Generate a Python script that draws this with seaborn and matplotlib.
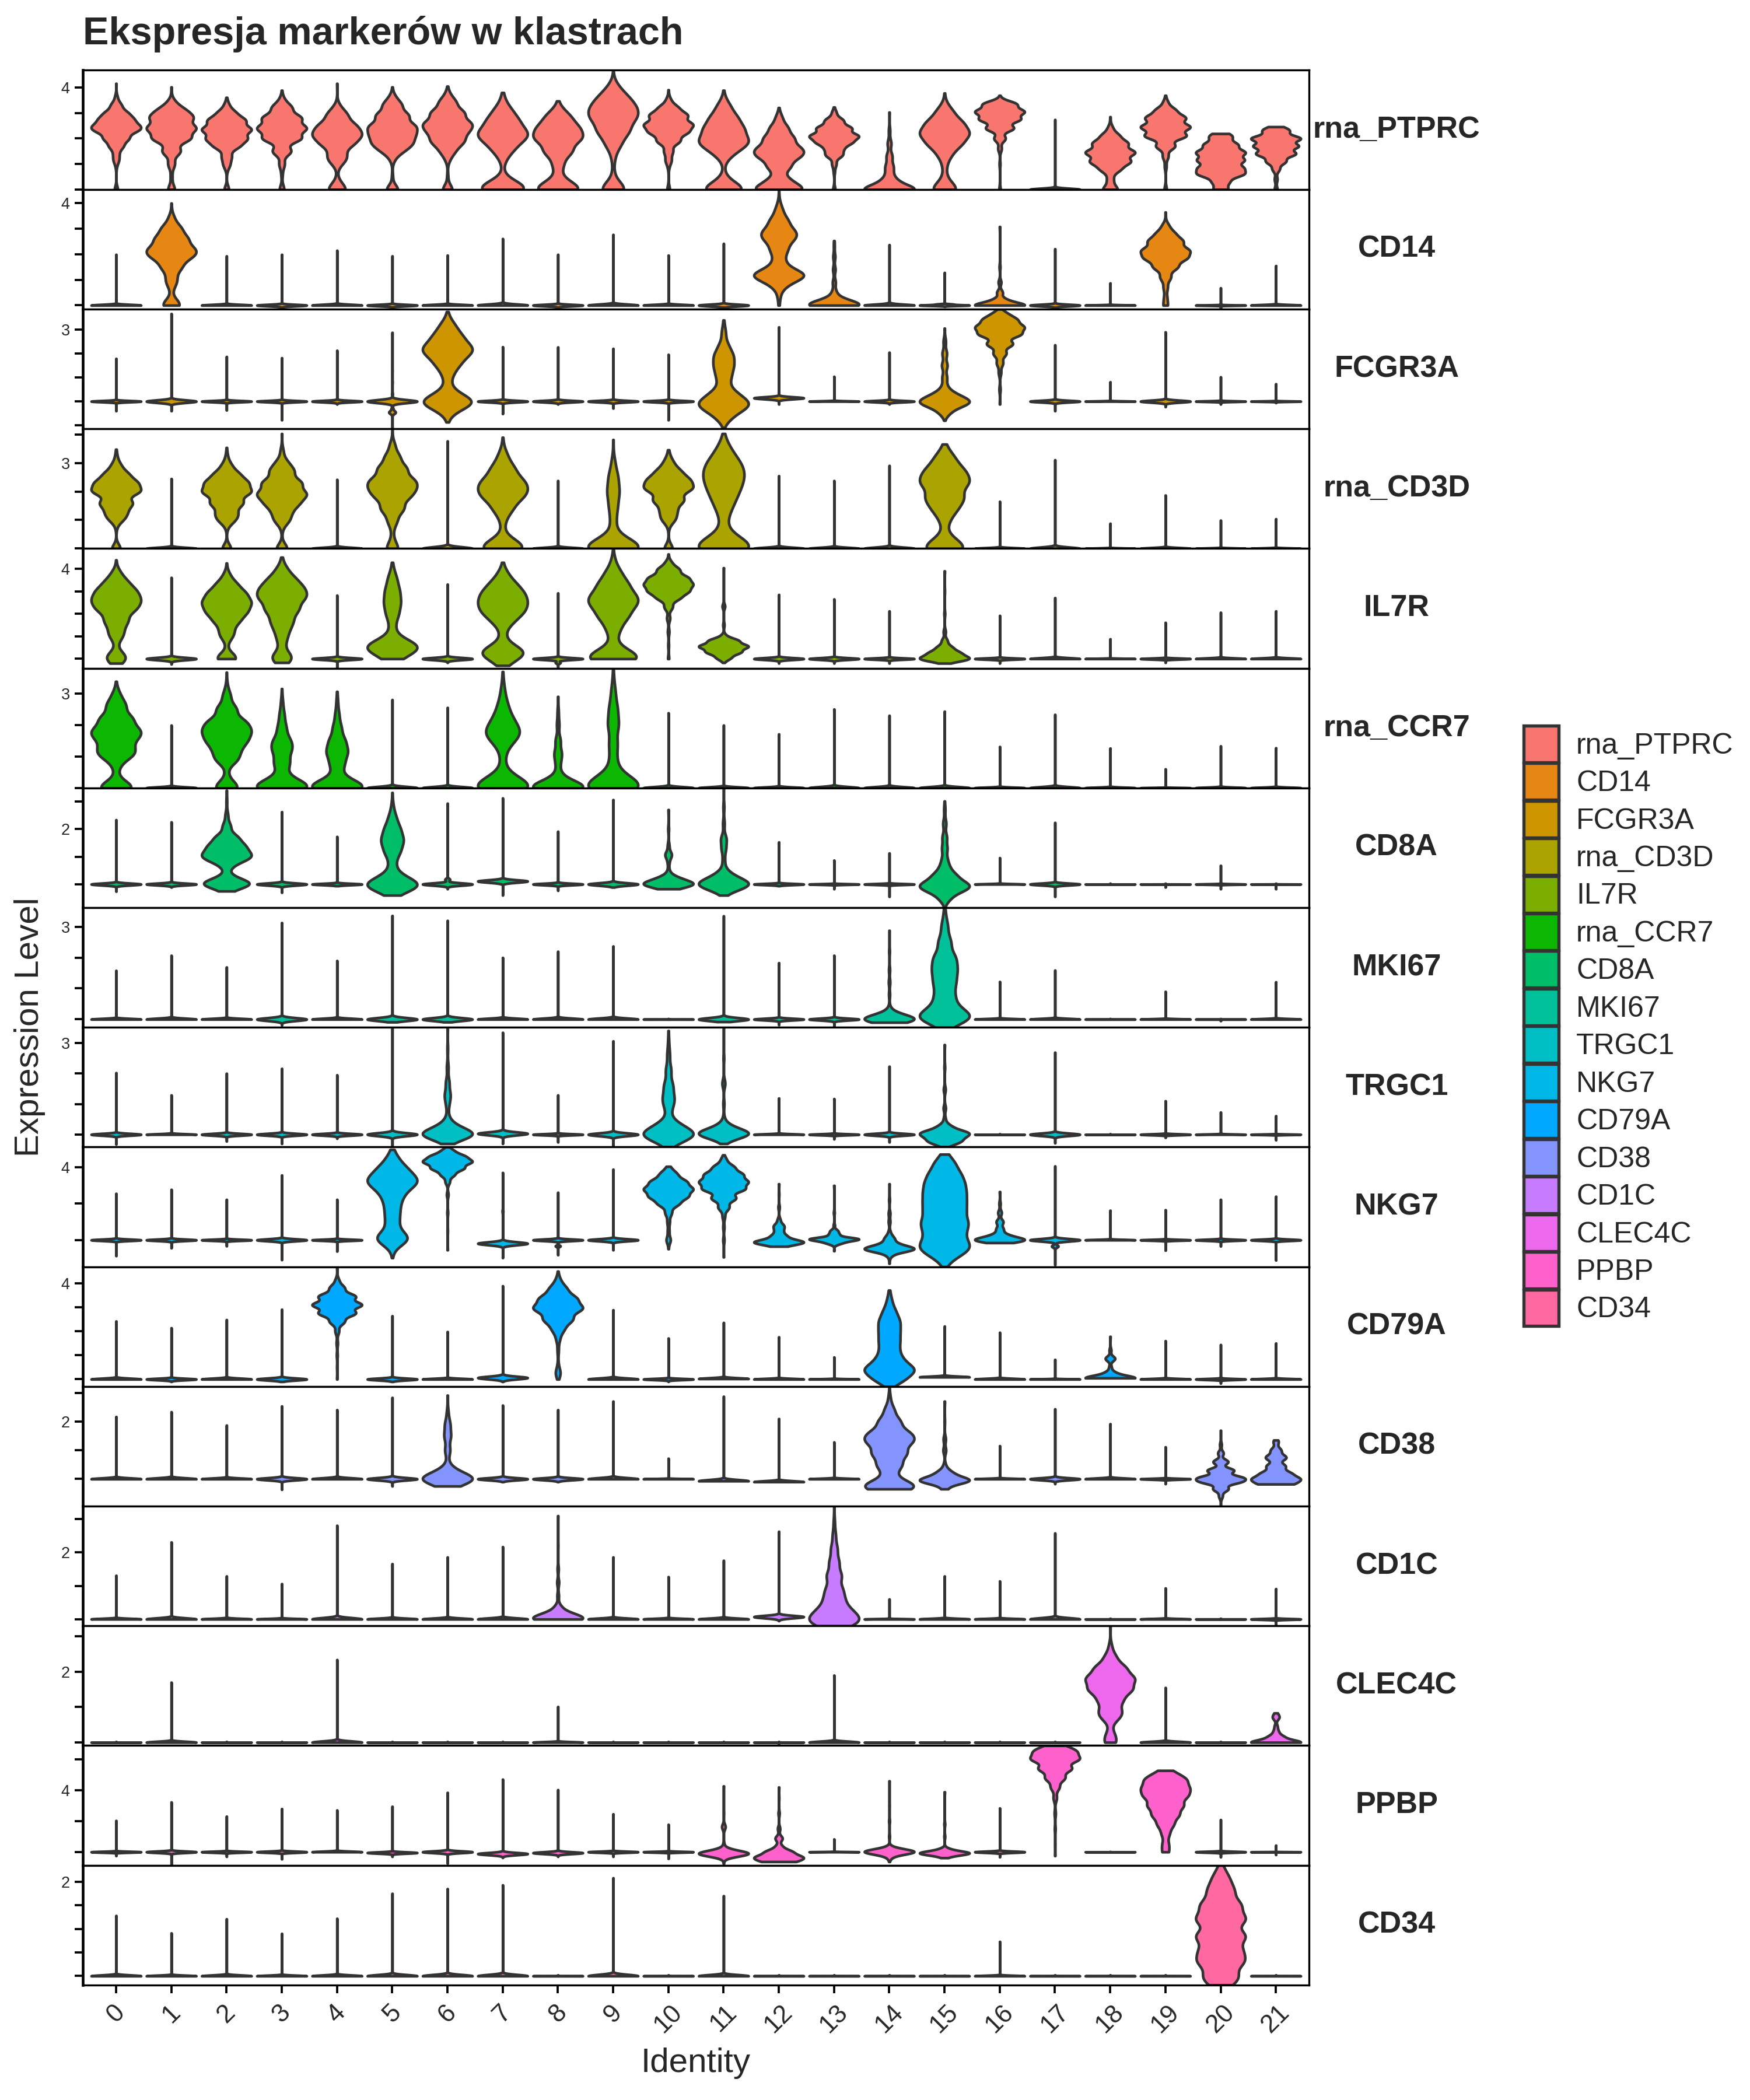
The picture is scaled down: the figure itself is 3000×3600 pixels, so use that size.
import numpy as np
import pandas as pd
import matplotlib
matplotlib.use("Agg")
import matplotlib.pyplot as plt
import seaborn as sns
from matplotlib.patches import Patch
from matplotlib.ticker import MultipleLocator, FuncFormatter

sns.set_theme(style="ticks")
plt.rcParams["font.family"] = ["Liberation Sans", "DejaVu Sans"]

genes = ["rna_PTPRC", "CD14", "FCGR3A", "rna_CD3D", "IL7R", "rna_CCR7", "CD8A", "MKI67",
         "TRGC1", "NKG7", "CD79A", "CD38", "CD1C", "CLEC4C", "PPBP", "CD34"]
colors = ["#F8766D", "#E68613", "#CD9600", "#ABA300", "#7CAE00", "#0CB702", "#00BE67", "#00C19A",
          "#00BFC4", "#00B8E7", "#00A9FF", "#8494FF", "#C77CFF", "#ED68ED", "#FF61CC", "#FF68A1"]
clusters = [str(i) for i in range(22)]
label_tick = [4, 4, 3, 3, 4, 3, 2, 3, 3, 4, 4, 2, 2, 2, 4, 2]
tick_step = [1, 1, 1, 1, 1, 1, 1, 1, 1, 2, 1, 1, 1, 1, 2, 0.5]

# per gene: top of each violin, bottom of each violin, and (value, relative width) for expressed clusters
ptprc_top = [4.16, 4.02, 3.61, 3.89, 4.16, 4.02, 4.05, 3.8, 3.47, 4.7, 3.91, 3.89, 3.21, 3.23, 3.03, 3.78, 3.69, 2.74, 2.85, 3.69, 2.19, 2.46]
ptprc_low = [0] * 22
ptprc_body = {
    0: [(0, 1.0), (0.9, 0.3), (1.15, 1.5), (1.4, 1.5), (1.7, 4), (2.0, 7), (2.3, 9.5), (2.5, 10), (2.75, 8.5), (3.0, 6), (3.3, 3), (3.6, 0.8)],
    1: [(0, 1.5), (0.5, 0.4), (1.0, 1.5), (1.5, 4), (2.0, 8), (2.4, 10), (2.8, 8), (3.1, 5), (3.4, 1.5)],
    2: [(0, 1), (0.8, 0.3), (1.0, 1.3), (1.3, 2), (1.7, 5), (2.0, 8), (2.35, 10), (2.7, 7.5), (3.0, 3.5), (3.3, 1)],
    3: [(0, 1), (0.6, 0.3), (1.0, 1.2), (1.5, 4), (2.0, 8), (2.4, 10), (2.8, 8), (3.2, 4), (3.5, 1)],
    4: [(0, 4), (0.3, 1), (0.9, 0.5), (1.15, 3), (1.4, 3), (1.8, 7), (2.15, 10), (2.5, 8), (2.9, 4.5), (3.2, 1.5)],
    5: [(0, 3), (0.5, 0.3), (1.2, 1), (1.5, 4), (1.75, 6), (1.95, 5.5), (2.2, 8.5), (2.5, 10), (2.9, 8), (3.3, 4.5), (3.6, 1.5)],
    6: [(0, 2.5), (0.5, 0.3), (1.2, 1), (1.5, 3), (1.8, 4.5), (2.0, 5), (2.3, 8), (2.6, 10), (3.0, 8), (3.4, 4), (3.7, 1.2)],
    7: [(0, 10), (0.25, 4), (0.5, 0.5), (1.2, 1.5), (1.6, 5), (2.0, 8.5), (2.3, 8.5), (2.7, 7), (3.1, 4), (3.5, 1)],
    8: [(0, 9), (0.3, 3), (0.6, 0.8), (1.0, 2.5), (1.5, 6.5), (2.0, 10), (2.4, 8.5), (2.8, 5), (3.1, 1.8)],
    9: [(0, 6), (0.3, 1), (0.7, 0.4), (1.3, 1), (1.8, 4), (2.3, 8), (2.8, 10), (3.2, 9.5), (3.6, 6.5), (4.0, 2.5)],
    10: [(0, 0.6), (0.9, 0.3), (1.15, 1.3), (1.5, 2), (1.9, 5), (2.25, 8), (2.55, 10), (2.9, 8), (3.2, 4), (3.5, 1)],
    11: [(0, 10), (0.3, 3), (0.6, 0.5), (1.2, 1.5), (1.5, 5), (1.8, 9), (2.05, 7.5), (2.4, 9.5), (2.8, 7), (3.2, 3.5), (3.5, 1)],
    12: [(0, 10), (0.3, 4), (0.5, 1.5), (0.9, 5), (1.3, 8), (1.6, 8.5), (2.0, 6.5), (2.4, 4), (2.8, 1.5)],
    13: [(0, 0.5), (0.7, 0.3), (1.0, 1), (1.35, 3.5), (1.6, 3.5), (1.85, 7), (2.1, 10), (2.4, 7.5), (2.7, 4), (3.0, 1)],
    14: [(0, 10), (0.3, 3), (0.6, 1.2), (0.9, 1.5), (1.3, 1.2), (1.8, 0.8), (2.3, 0.3)],
    15: [(0, 5), (0.3, 1.5), (0.6, 0.5), (1.0, 1), (1.4, 3), (1.8, 7), (2.2, 10), (2.6, 7.5), (3.0, 3.5), (3.3, 1)],
    16: [(0, 0.3), (1.0, 0.2), (1.6, 0.8), (2.0, 2.5), (2.4, 6), (2.75, 8.5), (3.05, 10), (3.35, 7)],
    18: [(0, 3), (0.3, 1), (0.5, 0.8), (0.8, 4), (1.1, 8), (1.45, 10), (1.8, 7), (2.1, 3.5), (2.4, 1)],
    19: [(0, 0.5), (0.9, 0.4), (1.3, 1.2), (1.7, 4), (2.1, 8.5), (2.45, 10), (2.8, 8), (3.1, 4), (3.4, 1)],
    20: [(0, 3), (0.3, 3.5), (0.6, 9), (0.85, 8.5), (1.15, 9.5), (1.45, 10), (1.75, 7), (2.05, 4), (2.19, 1.5)],
    21: [(0, 0.6), (0.4, 0.6), (0.8, 1.5), (1.1, 4), (1.4, 8), (1.7, 9), (2.0, 10), (2.3, 5), (2.46, 1.2)],
}

cd14_top = [1.99, 4.0, 1.93, 1.99, 2.15, 1.93, 1.96, 2.61, 1.99, 2.77, 1.96, 2.42, 4.54, 2.53, 2.37, 1.28, 3.08, 2.21, 0.87, 3.65, 0.68, 1.55]
cd14_low = [0, 0, 0, -0.11, 0, -0.1, 0, 0, -0.12, 0, 0, -0.08, 0, 0, 0, -0.05, 0, -0.08, 0, 0, -0.15, 0]
cd14_body = {
    1: [(0, 4), (0.2, 1), (0.58, 0.3), (0.85, 1.8), (1.1, 2), (1.5, 5), (1.9, 8.5), (2.2, 10), (2.6, 8), (3.0, 5), (3.4, 1.5)],
    7: [(0, 30), (0.05, 6)],
    12: [(0, 0.3), (0.4, 0.8), (0.8, 3.5), (1.1, 8), (1.25, 8), (1.55, 3), (1.85, 2.2), (2.2, 4.5), (2.6, 7), (2.9, 7.5), (3.3, 5), (3.7, 2), (4.0, 0.5)],
    13: [(0, 10), (0.2, 4), (0.5, 1), (0.9, 0.7), (1.4, 0.6), (1.9, 0.5), (2.3, 0.2)],
    14: [(0, 30), (0.05, 5)],
    15: [(0, 30), (0.04, 10)],
    16: [(0, 10), (0.2, 2.5), (0.5, 1.2), (0.9, 0.6), (1.5, 0.2)],
    19: [(0, 1), (0.3, 0.7), (0.7, 1), (1.1, 2.5), (1.5, 5.5), (1.85, 9), (2.15, 10), (2.5, 7.5), (2.8, 4), (3.1, 1.5)],
}

fcgr3a_top = [1.79, 3.67, 1.87, 1.82, 2.13, 2.88, 3.75, 2.28, 2.27, 2.21, 1.96, 3.4, 3.11, 1.04, 2.05, 3.06, 3.86, 2.36, 0.81, 2.9, 1.02, 0.73]
fcgr3a_low = [-0.4, -0.4, -0.37, -0.78, -0.12, -1.15, -0.87, -0.52, -0.12, -0.29, -0.78, -1.1, -0.12, 0, -0.12, -0.8, -0.12, -0.4, 0, -0.23, -0.12, -0.06]
fcgr3a_body = {
    5: [(0, 30), (-0.46, 4), (-0.3, 1), (0.3, 0.5), (0.8, 0.3), (1.3, 0.2)],
    6: [(-0.5, 2), (-0.2, 6), (0, 9), (0.25, 5), (0.55, 1.5), (0.85, 1), (1.2, 3), (1.6, 6.5), (2.0, 9.5), (2.3, 10), (2.7, 7.5), (3.1, 4), (3.4, 1.2)],
    11: [(-0.7, 3), (-0.35, 7), (-0.05, 10), (0.3, 6), (0.7, 2.5), (1.1, 3.5), (1.5, 4.5), (1.9, 4.5), (2.3, 2.5), (2.8, 1), (3.1, 0.4)],
    12: [(0.14, 30)],
    15: [(-0.45, 3), (-0.15, 8), (0.05, 10), (0.3, 5), (0.6, 1.5), (1.0, 1.5), (1.5, 1.8), (2.0, 1.5), (2.5, 0.8)],
    16: [(0.5, 0.3), (1.2, 0.6), (1.6, 1.5), (2.0, 3), (2.4, 6), (2.8, 9), (3.1, 10), (3.4, 7), (3.65, 3)],
}

cd3d_top = [3.48, 2.45, 3.54, 4.03, 2.42, 4.2, 3.77, 3.9, 2.38, 3.82, 3.46, 4.03, 2.55, 2.38, 2.91, 3.66, 1.65, 3.11, 0.88, 1.87, 0.99, 1.04]
cd3d_low = [0] * 22
cd3d_body = {
    0: [(0, 2), (0.77, 0.3), (1.05, 3), (1.3, 4), (1.6, 7), (2.0, 10), (2.3, 8.5), (2.6, 5), (2.9, 2), (3.2, 0.5)],
    2: [(0, 2), (0.75, 0.3), (1.0, 3), (1.25, 4), (1.6, 7), (1.98, 10), (2.3, 8.5), (2.6, 5), (2.9, 2), (3.2, 0.5)],
    3: [(0, 2.5), (0.71, 0.3), (1.0, 3), (1.3, 3.5), (1.6, 6.5), (1.92, 10), (2.3, 8.5), (2.7, 5), (3.0, 2.5), (3.4, 0.7)],
    5: [(0, 3), (0.3, 0.8), (0.7, 0.6), (1.0, 2.5), (1.4, 6), (1.8, 7.5), (2.1, 9.5), (2.4, 10), (2.8, 7.5), (3.2, 4), (3.6, 1.5)],
    7: [(0, 10), (0.25, 4), (0.5, 0.7), (1.0, 1.5), (1.4, 5), (1.8, 8.5), (2.1, 9), (2.4, 8.5), (2.8, 6), (3.2, 2.5), (3.5, 0.6)],
    9: [(0, 10), (0.25, 3.5), (0.5, 1), (1.0, 1.2), (1.5, 1.8), (2.0, 2.5), (2.5, 2), (3.0, 0.8)],
    10: [(0, 2), (0.8, 0.3), (1.05, 3), (1.35, 3.5), (1.7, 7), (2.1, 10), (2.4, 8.5), (2.7, 5), (3.0, 2), (3.25, 0.5)],
    11: [(0, 10), (0.3, 4.5), (0.6, 1), (1.0, 1), (1.4, 2.5), (1.8, 4), (2.2, 5.5), (2.6, 6.5), (3.0, 5.5), (3.4, 2.5), (3.7, 0.8)],
    15: [(0, 8), (0.3, 3), (0.55, 0.5), (1.0, 2), (1.4, 5), (1.8, 8), (2.3, 10), (2.7, 8), (3.1, 4), (3.4, 1.5)],
}

il7r_top = [4.39, 3.61, 4.25, 4.51, 2.82, 4.28, 3.31, 4.28, 2.92, 4.9, 4.65, 4.04, 2.85, 2.65, 2.12, 3.9, 1.92, 2.71, 0.88, 1.61, 2.06, 2.12]
il7r_low = [-0.2, -0.24, 0, -0.17, -0.42, 0, -0.17, -0.3, -0.38, 0, 0, -0.17, -0.2, -0.2, -0.2, -0.2, -0.2, 0, 0, -0.17, 0, 0]
il7r_body = {
    0: [(-0.17, 1), (0.05, 4), (0.3, 1), (0.67, 0.3), (1.0, 2.5), (1.3, 2.5), (1.7, 5.5), (2.2, 8.5), (2.6, 10), (3.0, 8.5), (3.4, 5), (3.8, 2)],
    2: [(0, 3.5), (0.15, 1.5), (0.6, 0.3), (1.0, 2.3), (1.3, 2.5), (1.7, 5.5), (2.1, 8.5), (2.5, 10), (2.9, 8), (3.3, 4.5), (3.7, 1.5)],
    3: [(-0.15, 1), (0.05, 4), (0.3, 1), (0.6, 0.6), (0.9, 2), (1.3, 3), (1.7, 5), (2.2, 8), (2.7, 10), (3.1, 9), (3.5, 6), (3.9, 2.5), (4.2, 0.6)],
    5: [(0, 3), (0.3, 6), (0.55, 10), (0.8, 4), (1.1, 1), (1.5, 1.5), (2.0, 3.5), (2.5, 4.5), (3.0, 4), (3.5, 2.5), (3.9, 0.8)],
    7: [(-0.1, 4), (0.25, 9), (0.55, 4), (0.9, 1), (1.3, 1.5), (1.7, 5), (2.1, 9), (2.5, 10), (2.9, 9), (3.3, 6), (3.7, 2.5), (4.0, 0.6)],
    8: [(0, 30), (-0.17, 3)],
    9: [(0, 10), (0.3, 4.5), (0.6, 1), (1.0, 1.2), (1.4, 3), (1.9, 6.5), (2.4, 8.5), (2.8, 8.5), (3.3, 6.5), (3.8, 3.5), (4.3, 1)],
    10: [(0, 0.3), (0.6, 0.2), (1.2, 0.4), (1.8, 0.8), (2.3, 2), (2.7, 5), (3.0, 8.5), (3.3, 10), (3.6, 8.5), (3.95, 5), (4.25, 1.5)],
    11: [(0.05, 3), (0.3, 7), (0.55, 10), (0.8, 6), (1.0, 1), (1.5, 0.3), (2.33, 0.6)],
    15: [(0.0, 10), (0.25, 6), (0.5, 3), (0.8, 1.2), (1.2, 0.5), (2.0, 0.25), (3.0, 0.1)],
}

ccr7_top = [3.38, 1.99, 3.67, 3.15, 3.06, 2.8, 2.55, 3.69, 2.9, 3.8, 2.38, 1.99, 1.71, 2.5, 2.3, 2.43, 1.31, 2.33, 1.26, 0.6, 1.33, 1.27]
ccr7_low = [0] * 22
ccr7_body = {
    0: [(0, 8), (0.2, 2), (0.45, 0.5), (0.75, 2), (1.05, 7.5), (1.3, 6.5), (1.6, 8.5), (1.85, 10), (2.2, 8.5), (2.6, 5), (2.9, 2), (3.1, 0.5)],
    2: [(0, 5), (0.2, 1.5), (0.5, 0.6), (0.9, 5), (1.2, 5.5), (1.5, 8.5), (1.8, 10), (2.1, 8.5), (2.5, 5), (2.9, 2), (3.2, 0.5)],
    3: [(0, 10), (0.2, 4.5), (0.45, 1.5), (0.8, 3.5), (1.2, 3.8), (1.5, 3.5), (1.9, 2), (2.3, 1.2), (2.7, 0.5)],
    4: [(0, 10), (0.2, 4.5), (0.5, 1.5), (0.8, 3), (1.15, 4.5), (1.5, 3.5), (1.9, 2), (2.3, 1), (2.7, 0.4)],
    7: [(0, 10), (0.25, 4.5), (0.5, 1), (0.9, 0.8), (1.3, 1.5), (1.6, 4), (1.85, 5), (2.2, 3.5), (2.6, 2), (3.0, 0.8), (3.3, 0.3)],
    8: [(0, 10), (0.2, 4), (0.45, 1), (0.8, 1), (1.1, 1.6), (1.5, 1.2), (2.0, 0.6), (2.4, 0.3)],
    9: [(0, 10), (0.25, 5), (0.5, 1.5), (0.9, 1.5), (1.4, 2), (2.0, 2.6), (2.5, 2), (3.0, 1), (3.4, 0.3)],
}

cd8a_top = [2.34, 2.26, 3.41, 2.63, 1.73, 3.33, 2.94, 3.13, 1.92, 3.07, 2.71, 3.5, 1.53, 0.87, 1.13, 3.02, 0.96, 2.24, 0.03, 0.03, 0.68, 0.03]
cd8a_low = [-0.26, -0.11, -0.25, -0.3, -0.06, -0.4, -0.17, -0.4, -0.23, -0.11, -0.17, -0.4, -0.06, -0.17, -0.45, -0.85, 0, -0.45, 0, -0.11, -0.17, -0.17]
cd8a_body = {
    2: [(-0.25, 1), (0, 10), (0.2, 3), (0.4, 0.5), (0.7, 2.5), (0.95, 8), (1.15, 6.5), (1.4, 7), (1.7, 5), (2.1, 2), (2.5, 0.7), (3.0, 0.2)],
    5: [(-0.2, 5), (0, 10), (0.25, 4), (0.5, 1), (0.8, 1.5), (1.2, 4), (1.6, 5.5), (2.0, 4), (2.4, 2), (2.8, 0.6)],
    6: [(0, 30), (0.17, 3)],
    7: [(0.11, 30)],
    10: [(-0.17, 1), (0, 10), (0.2, 4), (0.45, 0.5), (0.8, 0.4), (1.07, 1.5), (1.4, 0.4), (2.0, 0.2)],
    11: [(-0.15, 6), (0.05, 10), (0.3, 4), (0.55, 0.8), (0.9, 0.6), (1.3, 1.2), (1.65, 1.5), (2.2, 0.5), (2.8, 0.3)],
    15: [(-0.5, 3), (-0.2, 8), (0.0, 10), (0.3, 6), (0.6, 2.5), (0.9, 1.5), (1.3, 1.6), (1.7, 1.4), (2.2, 1), (2.7, 0.4)],
}

mki67_top = [1.58, 2.07, 1.69, 3.13, 1.9, 3.36, 3.2, 2.0, 2.2, 2.37, 0.02, 3.35, 1.83, 2.07, 2.88, 3.62, 1.22, 1.59, 0.02, 0.9, 0.02, 1.21]
mki67_low = [0, 0, 0, -0.19, 0, -0.09, -0.09, 0, 0, 0, 0, -0.08, -0.18, -0.23, 0, -0.26, 0, 0, 0, 0, -0.05, 0]
mki67_body = {
    14: [(-0.1, 2), (0, 10), (0.15, 4), (0.35, 0.5), (0.8, 0.3), (1.2, 0.4), (1.6, 0.3), (2.2, 0.15)],
    15: [(0, 8), (0.2, 6), (0.5, 3), (0.8, 3.5), (1.2, 4.5), (1.6, 5), (2.0, 4.8), (2.5, 3), (3.0, 1.5), (3.4, 0.4)],
}

trgc1_top = [2.02, 1.29, 2.0, 2.16, 1.95, 3.51, 3.5, 3.34, 1.29, 3.06, 3.4, 3.5, 1.19, 1.17, 2.23, 2.94, 0.02, 2.69, 0.02, 1.1, 0.73, 0.61]
trgc1_low = [-0.32, 0, -0.22, -0.3, -0.13, -0.39, -0.3, -0.3, -0.25, -0.41, -0.4, -0.3, 0, -0.15, -0.25, -0.4, 0, -0.28, 0, -0.1, 0, -0.18]
trgc1_body = {
    5: [(0, 30), (0.03, 3)],
    6: [(-0.1, 5), (0.05, 10), (0.3, 3), (0.6, 0.5), (1.0, 0.8), (1.3, 1.5), (1.7, 1), (2.2, 0.5), (2.8, 0.2)],
    7: [(0.03, 30)],
    10: [(-0.15, 6), (0.05, 10), (0.3, 4), (0.5, 0.8), (0.9, 1.8), (1.2, 2.8), (1.6, 2.5), (2.1, 1.6), (2.6, 0.8), (3.0, 0.3)],
    11: [(-0.1, 4), (0.05, 10), (0.25, 3), (0.5, 0.4), (1.0, 0.3), (1.67, 0.8), (2.5, 0.15)],
    15: [(-0.25, 6), (-0.1, 5), (0.05, 10), (0.25, 3), (0.5, 0.5), (0.86, 0.6), (1.47, 0.5), (2.2, 0.2)],
}

nkg7_top = [2.56, 2.78, 2.23, 3.57, 2.23, 4.98, 5.12, 3.71, 2.62, 3.89, 4.05, 4.68, 3.09, 3.0, 3.09, 4.72, 2.66, 4.07, 1.63, 1.66, 2.23, 2.4]
nkg7_low = [-0.87, -0.44, -0.33, -1.09, -0.62, -0.98, -0.55, -0.98, -0.82, -0.55, -0.49, -0.94, -0.35, -0.6, -1.29, -1.47, -0.15, -1.37, 0, -0.57, -0.34, -1.11]
nkg7_body = {
    5: [(-0.5, 0.6), (-0.1, 4), (0.15, 5.5), (0.5, 2.5), (1.0, 3), (1.5, 3.2), (2.0, 3.5), (2.5, 5), (3.0, 8.5), (3.4, 10), (3.9, 7), (4.4, 3), (4.8, 0.8)],
    6: [(0.5, 0.1), (1.5, 0.2), (2.5, 0.4), (3.2, 1), (3.6, 3), (3.95, 7), (4.3, 10), (4.6, 7), (4.9, 2.5)],
    7: [(-0.19, 30), (1.58, 0.5)],
    8: [(0, 30), (-0.33, 3)],
    10: [(0, 1), (0.5, 0.4), (1.0, 0.6), (1.5, 1.5), (2.0, 4.5), (2.4, 8), (2.8, 10), (3.2, 7.5), (3.6, 3.5), (3.9, 1)],
    11: [(0, 0.3), (0.7, 0.3), (1.3, 0.6), (1.8, 2.5), (2.3, 5.5), (2.8, 9), (3.2, 10), (3.6, 8), (4.0, 4.5), (4.4, 1.2)],
    12: [(-0.35, 1), (-0.12, 10), (0.2, 3), (0.5, 1.5), (0.77, 2), (1.1, 0.6), (1.8, 0.3), (2.5, 0.1)],
    13: [(-0.15, 3), (0.05, 10), (0.3, 2), (0.5, 1.5), (0.8, 0.3), (1.5, 0.2)],
    14: [(-0.8, 1), (-0.5, 10), (-0.25, 3), (0.08, 2), (0.4, 0.5), (1.0, 0.4), (1.46, 0.4), (2.2, 0.15)],
    15: [(-1.2, 2), (-0.8, 6), (-0.45, 9), (-0.1, 8), (0.3, 7.5), (0.7, 8.5), (1.1, 9.5), (1.6, 10), (2.1, 10), (2.6, 10), (3.1, 9.5), (3.6, 8), (4.1, 5), (4.45, 2.2), (4.72, 0.8)],
    16: [(0.0, 10), (0.25, 3), (0.6, 1.5), (1.0, 1.5), (1.5, 0.8), (2.0, 0.3)],
    17: [(0, 30), (-0.34, 4), (1.5, 0.1)],
}

cd79a_top = [2.42, 2.14, 2.48, 2.91, 4.69, 2.64, 1.98, 3.89, 4.5, 2.89, 1.71, 2.36, 1.76, 0.92, 3.71, 2.21, 1.95, 0.82, 1.78, 1.6, 1.44, 1.5]
cd79a_low = [0, -0.1, 0, -0.1, 0, -0.1, 0, -0.1, 0, 0, -0.1, 0, 0, 0, -0.3, 0, 0, 0, 0, 0, -0.17, 0]
cd79a_body = {
    4: [(0, 0.1), (0.5, 0.1), (1.0, 0.15), (1.5, 0.3), (2.0, 0.8), (2.4, 3), (2.75, 7.5), (3.1, 10), (3.45, 7.5), (3.8, 3), (4.1, 0.8)],
    7: [(0.06, 30)],
    8: [(0, 0.1), (0.26, 1), (0.6, 0.2), (1.2, 0.3), (1.7, 0.8), (2.1, 2.5), (2.5, 6), (2.95, 10), (3.35, 7.5), (3.75, 3.5), (4.1, 1)],
    11: [(0.02, 30)],
    14: [(0, 6), (0.4, 10), (0.8, 5), (1.2, 3.5), (1.6, 3.8), (2.0, 3.8), (2.4, 4), (2.8, 2.5), (3.2, 1), (3.5, 0.3)],
    15: [(0.09, 30)],
    18: [(0.05, 10), (0.25, 2), (0.5, 0.5), (0.86, 2), (1.2, 0.4)],
}

cd38_top = [2.18, 2.35, 1.88, 2.55, 2.42, 2.85, 2.93, 2.58, 2.42, 2.72, 0.72, 2.89, 2.11, 1.29, 3.24, 2.72, 1.16, 2.45, 1.93, 1.12, 1.7, 1.36]
cd38_low = [0, 0, 0, -0.37, 0, -0.25, 0, -0.1, -0.1, 0, 0, 0, -0.1, 0, 0, 0, 0, -0.17, 0, -0.17, -0.95, 0]
cd38_body = {
    6: [(-0.25, 2), (0, 10), (0.25, 3), (0.5, 0.5), (1.0, 1.2), (1.5, 1.5), (1.9, 1.2), (2.3, 0.4)],
    11: [(-0.07, 30)],
    12: [(-0.1, 30)],
    14: [(-0.35, 7), (-0.18, 8), (0.16, 2.5), (0.5, 6), (0.9, 8.5), (1.3, 10), (1.6, 9), (2.0, 5.5), (2.4, 2.5), (2.8, 0.6)],
    15: [(-0.35, 1), (-0.05, 10), (0.2, 3), (0.45, 0.5), (1.0, 0.6), (1.39, 0.5), (2.0, 0.1)],
    20: [(-0.6, 1), (-0.35, 4), (-0.1, 9), (0.05, 10), (0.3, 7), (0.6, 4), (0.9, 1.5), (1.2, 0.5)],
    21: [(-0.18, 7), (0.0, 10), (0.2, 6.5), (0.45, 4.5), (0.75, 5), (1.0, 2.5), (1.3, 1.2)],
}

cd1c_top = [1.31, 2.31, 1.29, 1.06, 2.81, 1.66, 1.86, 2.17, 3.1, 1.86, 1.27, 1.76, 2.63, 3.39, 0.6, 1.29, 1.14, 2.58, 0.02, 0.93, 0.02, 0.91]
cd1c_low = [0, 0, 0, 0, 0, 0, 0, 0, 0, 0, 0, 0, -0.05, -0.2, 0, 0, 0, 0, 0, 0, 0, -0.16]
cd1c_body = {
    8: [(0, 10), (0.15, 5), (0.35, 1.5), (0.7, 0.4), (1.1, 0.5), (1.5, 0.3), (2.2, 0.1)],
    12: [(0.07, 30)],
    13: [(-0.16, 8), (0.05, 10), (0.3, 7), (0.6, 5), (0.9, 4.5), (1.3, 4.5), (1.7, 3), (2.1, 2), (2.5, 1), (2.9, 0.4)],
}

clec4c_top = [0.02, 1.7, 0.02, 0.02, 2.34, 0.02, 0.02, 0.02, 1.01, 0.02, 0.02, 0.02, 0.02, 1.9, 0.02, 0.02, 0.02, 0.02, 3.3, 1.55, 0.02, 0.83]
clec4c_low = [0, 0, 0, 0, 0, 0, 0, 0, 0, 0, 0, 0, -0.09, 0, 0, 0, 0, 0, 0, 0, 0, 0]
clec4c_body = {
    18: [(0, 2), (0.2, 1.5), (0.41, 0.4), (0.7, 3), (0.9, 3.8), (1.2, 5), (1.5, 9), (1.8, 10), (2.1, 6.5), (2.4, 2.5), (2.7, 0.7)],
    21: [(0, 10), (0.15, 3), (0.3, 1), (0.45, 0.6), (0.7, 1.2), (0.8, 0.5)],
}

ppbp_top = [2.03, 3.23, 2.31, 2.8, 2.71, 2.95, 3.85, 4.71, 4.03, 2.46, 1.78, 4.27, 4.2, 0.83, 4.6, 3.89, 2.84, 6.9, 0.02, 5.28, 2.09, 0.43]
ppbp_low = [-0.25, -0.86, -0.3, -0.46, 0, -0.3, -0.74, -0.37, -0.3, -0.3, -0.43, -0.75, -0.63, 0, -0.63, -0.38, -0.33, -0.25, 0, 0, -0.33, -0.18]
ppbp_body = {
    5: [(-0.05, 30)],
    7: [(-0.12, 30)],
    8: [(-0.06, 30)],
    11: [(-0.12, 10), (0.1, 2), (0.5, 0.2), (1.63, 0.8), (2.5, 0.1)],
    12: [(-0.63, 6), (-0.35, 10), (0.0, 6), (0.35, 1.5), (0.88, 1.8), (1.5, 0.6), (2.5, 0.3), (3.5, 0.1)],
    14: [(-0.3, 1), (0.0, 10), (0.2, 2), (1.0, 0.2), (2.0, 0.15), (3.0, 0.1)],
    15: [(-0.3, 1), (-0.08, 10), (0.15, 2), (1.0, 0.2), (1.8, 0.15)],
    17: [(0.5, 0.1), (1.5, 0.15), (2.5, 0.3), (3.5, 0.8), (4.2, 2), (4.8, 4.5), (5.4, 7.5), (6.0, 10), (6.45, 7.5), (6.75, 3.5), (6.9, 1)],
    19: [(0, 1.5), (0.5, 1.5), (1.2, 2), (1.8, 4), (2.4, 6.5), (3.0, 8.5), (3.6, 9.5), (4.1, 10), (4.6, 8), (4.95, 4.5), (5.28, 1.5)],
}

cd34_top = [1.28, 0.91, 1.21, 0.9, 1.22, 1.75, 1.85, 1.93, 0.02, 2.08, 0.02, 1.7, 0.02, 0.02, 0.02, 0.02, 0.73, 0.02, 0.02, 0.02, 2.35, 0.02]
cd34_low = [0] * 22
cd34_body = {
    20: [(-0.19, 3), (0.0, 6), (0.3, 8.5), (0.55, 7.5), (0.85, 10), (1.2, 10), (1.5, 8), (1.8, 5), (2.05, 3), (2.25, 1)],
}

tops = [ptprc_top, cd14_top, fcgr3a_top, cd3d_top, il7r_top, ccr7_top, cd8a_top, mki67_top,
        trgc1_top, nkg7_top, cd79a_top, cd38_top, cd1c_top, clec4c_top, ppbp_top, cd34_top]
lows = [ptprc_low, cd14_low, fcgr3a_low, cd3d_low, il7r_low, ccr7_low, cd8a_low, mki67_low,
        trgc1_low, nkg7_low, cd79a_low, cd38_low, cd1c_low, clec4c_low, ppbp_low, cd34_low]
bodies = [ptprc_body, cd14_body, fcgr3a_body, cd3d_body, il7r_body, ccr7_body, cd8a_body, mki67_body,
          trgc1_body, nkg7_body, cd79a_body, cd38_body, cd1c_body, clec4c_body, ppbp_body, cd34_body]


def cluster_cells(g, c):
    pairs = bodies[g].get(c, [(0.0, 30)])
    vals = np.repeat([v for v, w in pairs], [max(1, int(round(w * 10))) for v, w in pairs])
    extra = [tops[g][c]]
    if lows[g][c] != 0:
        extra.append(lows[g][c])
    return np.concatenate([vals, extra])


fig, axes = plt.subplots(16, 1, figsize=(10, 12), dpi=300, sharex=True)
fig.subplots_adjust(left=0.0474, right=0.748, top=0.9668, bottom=0.0548, hspace=0)

for i, ax in enumerate(axes):
    frames = []
    for c in range(22):
        v = cluster_cells(i, c)
        frames.append(pd.DataFrame({"ident": clusters[c], "expr": v}))
    df = pd.concat(frames, ignore_index=True)
    sns.violinplot(data=df, x="ident", y="expr", order=clusters, ax=ax, color=colors[i],
                   saturation=1, density_norm="width", cut=0, inner=None, width=0.9,
                   bw_adjust=0.8, gridsize=400, linewidth=1.1, linecolor="#333333")
    ax.set_ylim(df["expr"].min(), df["expr"].max())
    ax.set_xlim(-0.6, 21.6)
    ax.set_xlabel("")
    ax.set_ylabel("")
    ax.yaxis.set_major_locator(MultipleLocator(tick_step[i]))
    ax.yaxis.set_major_formatter(FuncFormatter(
        lambda v, p, lab=label_tick[i]: str(lab) if abs(v - lab) < 1e-6 else ""))
    ax.tick_params(axis="y", labelsize=6.5, length=3.4, width=0.9, color="black", pad=2)
    for side in ["top", "right", "bottom"]:
        ax.spines[side].set_linewidth(0.8)
        ax.spines[side].set_color("black")
    ax.spines["left"].set_linewidth(1.1)
    ax.spines["left"].set_color("black")
    ax.text(1.0715, 0.5, genes[i], transform=ax.transAxes, ha="center", va="center",
            fontsize=12.5, fontweight="bold")
    if i < 15:
        ax.tick_params(axis="x", bottom=False, labelbottom=False)

last = axes[-1]
last.set_xticks(range(22))
last.set_xticklabels(clusters, rotation=45, ha="center", fontsize=10.5)
last.tick_params(axis="x", length=3.4, width=0.9, color="black", pad=3)
last.set_xlabel("Identity", fontsize=14, labelpad=4)

fig.text(0.017, 0.511, "Expression Level", rotation=90, ha="center", va="center", fontsize=14)
fig.text(0.0474, 0.979, "Ekspresja markerów w klastrach", ha="left", va="baseline",
         fontsize=16, fontweight="bold")

handles = [Patch(facecolor=c, edgecolor="#333333", linewidth=1.3) for c in colors]
fig.legend(handles, genes, loc="center left", bbox_to_anchor=(0.8707, 0.5115), frameon=False,
           fontsize=12, handlelength=1.2, handleheight=1.56, labelspacing=0.03,
           handletextpad=0.6, borderaxespad=0, borderpad=0)

fig.savefig("out.png", dpi=300, facecolor="white")
